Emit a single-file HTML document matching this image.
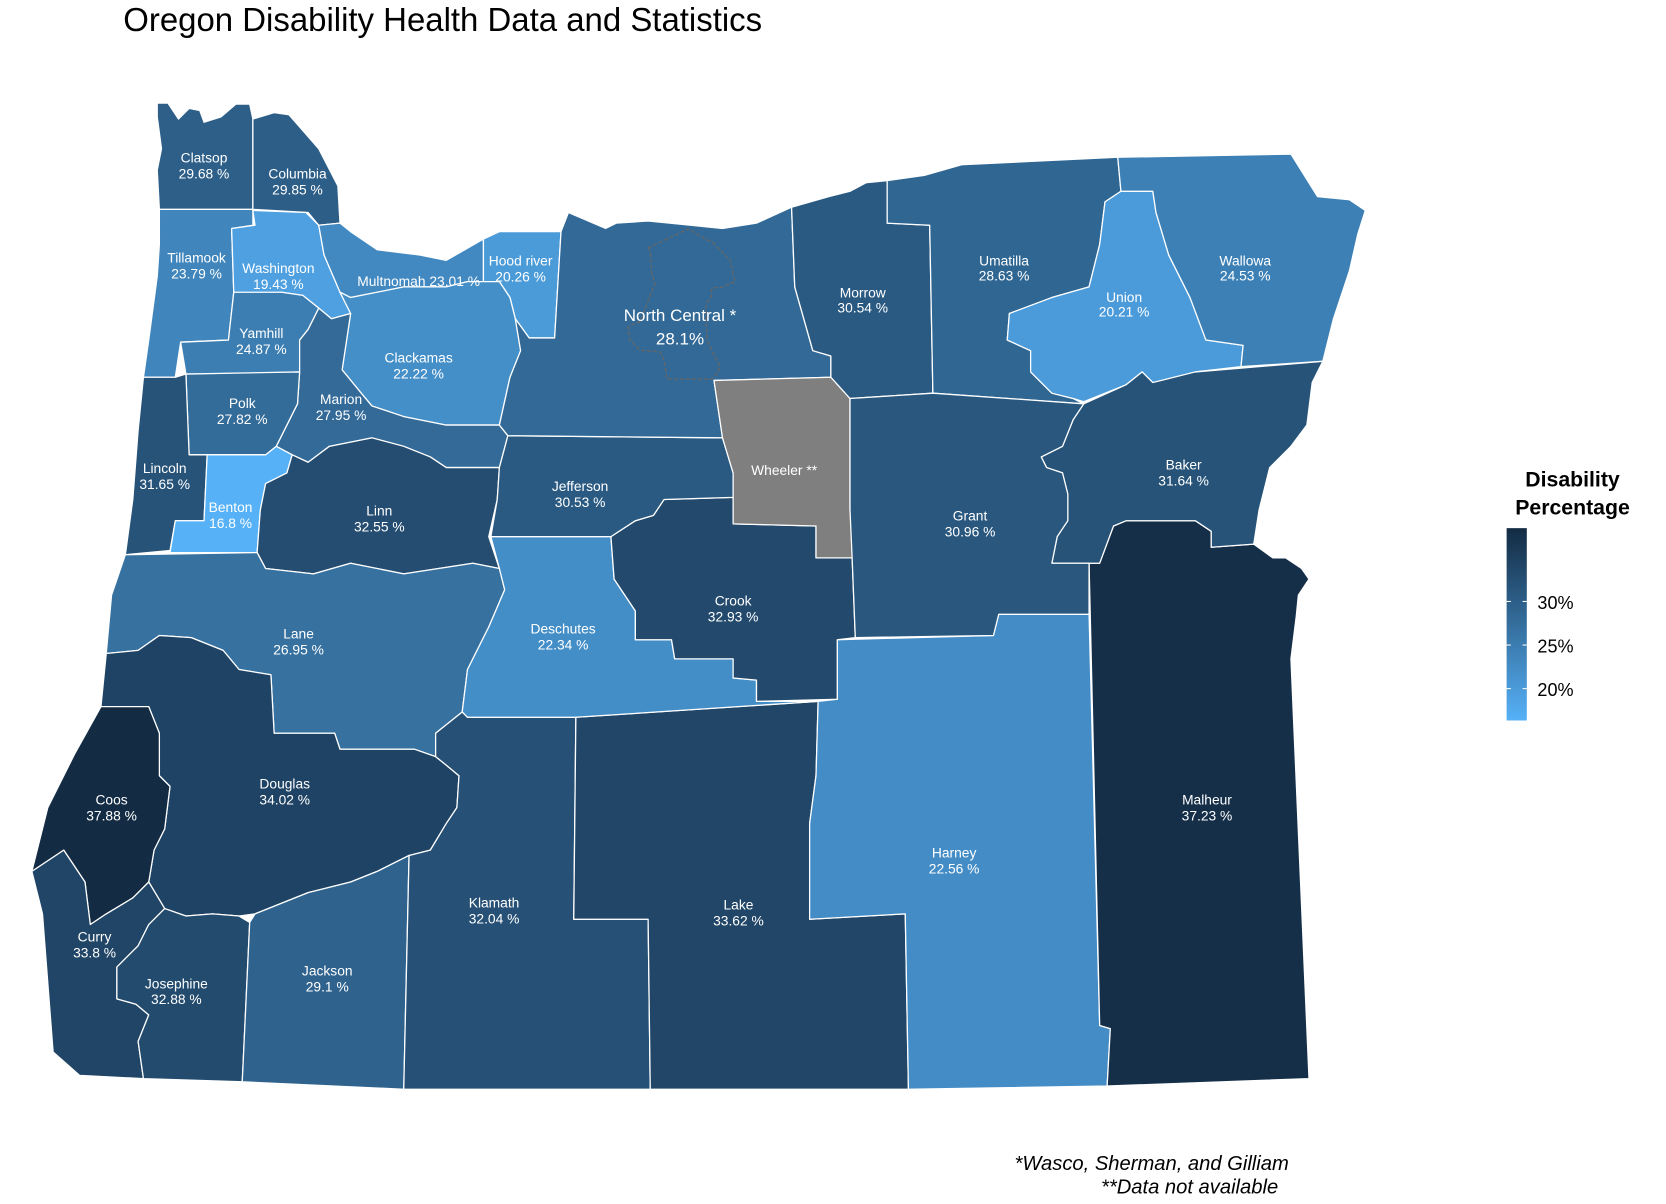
<!DOCTYPE html>
<html><head><meta charset="utf-8"><style>
html,body{margin:0;padding:0;background:#fff;}
svg{display:block;}
text{font-family:"Liberation Sans",Arial,sans-serif;}
.l{fill:#fff;font-size:13px;text-anchor:middle;}
</style></head><body>
<svg width="1666" height="1204" viewBox="0 0 1568 1133" preserveAspectRatio="none" xmlns="http://www.w3.org/2000/svg">
<defs><linearGradient id="g" x1="0" y1="1" x2="0" y2="0">
<stop offset="0" stop-color="#56b1f7"/><stop offset="1" stop-color="#132b43"/></linearGradient></defs>
<text x="116" y="29" font-size="31" fill="#000">Oregon Disability Health Data and Statistics</text>
<g stroke="#fff" stroke-width="1.2" stroke-linejoin="round">
<polygon fill="#2d5f89" points="148,97 158,97 168,112 178,102 188,104 192,115 208,110 222,98 235,98 238,112 238,197 150,197 148,160 152,140 148,110"/>
<polygon fill="#2d5e88" points="238,112 258,106 272,108 300,140 318,175 320,210 300,212 290,200 238,197"/>
<polygon fill="#4085bb" points="150,197 238,197 238,212 218,215 220,275 215,320 170,322 165,355 135,355 140,320 148,260 150,230"/>
<polygon fill="#4ea0e1" points="218,215 240,212 238,198 288,200 300,212 305,240 320,275 330,295 312,300 300,290 285,278 265,275 240,278 220,275"/>
<polygon fill="#3c7eb2" points="220,275 265,275 285,278 300,290 290,310 282,320 282,350 230,352 175,352 170,322 215,320"/>
<polygon fill="#4289c2" points="300,212 320,210 330,218 355,235 395,240 420,245 455,225 455,265 440,265 420,270 380,270 330,280 320,275 305,240"/>
<polygon fill="#4b9bd9" points="455,225 470,218 490,218 528,218 522,318 498,318 485,300 480,280 470,265 455,265"/>
<polygon fill="#458fc9" points="320,275 330,280 380,270 420,270 440,265 470,265 480,280 485,300 490,330 480,355 470,400 420,400 380,392 350,382 340,370 322,348 330,295"/>
<polygon fill="#336a98" points="290,310 300,290 312,300 330,295 322,348 340,370 350,382 380,392 420,400 470,400 478,410 470,440 420,440 405,430 380,420 350,412 310,420 290,435 275,428 260,420 270,400 280,380 282,350 282,320"/>
<polygon fill="#336b99" points="175,352 282,350 280,380 270,400 260,420 250,428 178,428"/>
<polygon fill="#275378" points="135,355 165,355 175,352 178,428 195,428 192,490 165,490 160,518 118,522 125,470 130,405"/>
<polygon fill="#56b1f7" points="195,428 250,428 260,420 275,428 270,445 250,455 245,480 242,520 160,520 165,490 192,490"/>
<polygon fill="#244d71" points="250,455 270,445 275,428 290,435 310,420 350,412 380,420 405,430 420,440 470,440 468,470 460,505 470,535 445,530 380,540 330,530 295,540 250,535 242,520 245,480"/>
<polygon fill="#3671a0" points="118,522 242,520 250,535 295,540 330,530 380,540 445,530 470,535 475,555 460,590 440,630 435,670 410,690 410,712 390,705 320,705 315,690 258,690 255,635 225,630 210,612 180,600 150,598 130,612 100,615 105,560"/>
<polygon fill="#1f4364" points="100,615 130,612 150,598 180,600 210,612 225,630 255,635 258,690 315,690 320,705 390,705 410,712 420,720 432,730 430,760 420,775 405,800 385,805 355,820 330,830 290,840 240,860 225,862 200,860 175,862 155,855 140,830 145,800 155,780 160,740 150,730 150,690 140,665 95,665"/>
<polygon fill="#132b43" points="95,665 140,665 150,690 150,730 160,740 155,780 145,800 140,830 125,845 100,860 85,870 80,830 60,800 30,820 45,760 70,710"/>
<polygon fill="#204566" points="30,820 60,800 80,830 85,870 100,860 125,845 140,830 155,855 140,870 130,890 110,910 110,940 128,945 140,955 130,980 135,1015 75,1012 50,990 40,860"/>
<polygon fill="#234b6e" points="155,855 175,862 200,860 225,862 235,868 228,1018 135,1015 130,980 140,955 128,945 110,940 110,910 130,890 140,870"/>
<polygon fill="#2f638e" points="235,868 240,860 290,840 330,830 355,820 385,805 380,1025 228,1018"/>
<polygon fill="#265075" points="385,805 405,800 420,775 430,760 432,730 420,720 410,712 410,690 435,670 440,675 542,675 540,865 610,865 612,1025 380,1025"/>
<polygon fill="#214667" points="542,675 770,660 768,730 762,775 762,865 852,860 855,1025 612,1025 610,865 540,865"/>
<polygon fill="#448cc6" points="770,660 788,658 788,602 935,598 940,578 1025,578 1035,965 1045,968 1042,1022 855,1025 852,860 762,865 762,775 768,730"/>
<polygon fill="#152f49" points="1025,530 1035,530 1048,495 1060,490 1125,490 1140,500 1140,515 1180,512 1198,525 1210,525 1225,535 1232,545 1222,560 1220,580 1215,620 1232,1015 1042,1022 1045,968 1035,965"/>
<polygon fill="#448ec8" points="462,505 575,505 578,545 598,575 598,602 632,602 635,620 690,620 690,638 712,640 712,660 770,660 542,675 440,675 435,670 440,630 460,590 475,555 470,535"/>
<polygon fill="#234a6d" points="575,505 598,490 615,485 625,470 690,468 690,493 768,495 768,525 802,525 805,600 788,602 788,658 712,660 712,640 690,638 690,620 635,620 632,602 598,602 598,575 578,545"/>
<polygon fill="#2a5a82" points="478,410 680,412 690,445 690,468 625,470 615,485 598,490 575,505 462,505 468,470 470,440"/>
<polygon fill="#326996" points="528,218 535,200 570,215 580,210 610,208 650,212 680,215 712,210 745,195 748,270 765,330 782,335 782,355 672,358 680,412 478,410 470,400 480,355 490,330 485,300 498,318 522,318"/>
<polygon fill="#7f7f7f" points="672,358 782,355 800,375 800,480 805,525 768,525 768,495 690,493 690,445 680,412"/>
<polygon fill="#2a5a82" points="745,195 780,185 800,180 815,172 835,170 835,210 875,212 878,370 800,375 782,355 782,335 765,330 748,270"/>
<polygon fill="#306692" points="835,170 870,165 905,155 1052,148 1055,180 1040,190 1035,230 1025,270 990,280 950,295 948,320 970,330 970,350 990,370 1010,375 1020,380 878,370 875,212 835,210"/>
<polygon fill="#4b9bda" points="1040,190 1055,180 1085,180 1088,200 1100,240 1120,280 1135,320 1170,325 1168,345 1125,350 1085,360 1075,350 1060,362 1020,378 1010,375 990,370 970,350 970,330 948,320 950,295 990,280 1025,270 1035,230"/>
<polygon fill="#3d80b5" points="1052,148 1215,145 1240,185 1270,188 1285,198 1278,220 1270,255 1255,300 1245,340 1168,345 1170,325 1135,320 1120,280 1100,240 1088,200 1085,180 1055,180"/>
<polygon fill="#275378" points="1020,380 1060,362 1075,350 1085,360 1125,350 1245,340 1235,360 1230,400 1215,420 1195,440 1185,480 1180,512 1140,515 1140,500 1125,490 1060,490 1048,495 1035,530 1025,530 990,530 995,505 1005,490 1005,465 1000,445 985,440 980,430 1000,420 1010,395"/>
<polygon fill="#29577e" points="800,375 878,370 1020,380 1010,395 1000,420 980,430 985,440 1000,445 1005,465 1005,490 995,505 990,530 1025,530 1025,578 940,578 935,598 805,600 802,525 800,480"/>
</g>
<g transform="scale(0.9412)"><polyline fill="none" stroke="#666" stroke-width="1.3" stroke-dasharray="4,2" points="648,248 688,229 713,243 730,260 735,282 722,287 712,288 711,297 706,304 706,315 707,340 713,353 720,366 718,372 712,379 667,379 664,360 660,352 640,350 630,340 628,327 634,324 640,322 655,283 652,275 650,250 648,248"/></g>
<g class="l">
<text class="l" x="192" y="153">Clatsop</text><text class="l" x="192" y="168">29.68 %</text>
<text class="l" x="280" y="168">Columbia</text><text class="l" x="280" y="183">29.85 %</text>
<text class="l" x="185" y="247">Tillamook</text><text class="l" x="185" y="262">23.79 %</text>
<text class="l" x="262" y="257">Washington</text><text class="l" x="262" y="272">19.43 %</text>
<text class="l" x="394" y="269">Multnomah 23.01 %</text>
<text class="l" x="490" y="250">Hood river</text><text class="l" x="490" y="265">20.26 %</text>
<text class="l" x="640" y="302" style="font-size:16px">North Central *</text><text class="l" x="640" y="324" style="font-size:16px">28.1%</text>
<text class="l" x="812" y="280">Morrow</text><text class="l" x="812" y="294">30.54 %</text>
<text class="l" x="945" y="250">Umatilla</text><text class="l" x="945" y="264">28.63 %</text>
<text class="l" x="1058" y="284">Union</text><text class="l" x="1058" y="298">20.21 %</text>
<text class="l" x="1172" y="250">Wallowa</text><text class="l" x="1172" y="264">24.53 %</text>
<text class="l" x="246" y="318">Yamhill</text><text class="l" x="246" y="333">24.87 %</text>
<text class="l" x="394" y="341">Clackamas</text><text class="l" x="394" y="356">22.22 %</text>
<text class="l" x="228" y="384">Polk</text><text class="l" x="228" y="399">27.82 %</text>
<text class="l" x="321" y="380">Marion</text><text class="l" x="321" y="395">27.95 %</text>
<text class="l" x="155" y="445">Lincoln</text><text class="l" x="155" y="460">31.65 %</text>
<text class="l" x="217" y="482">Benton</text><text class="l" x="217" y="497">16.8 %</text>
<text class="l" x="357" y="485">Linn</text><text class="l" x="357" y="500">32.55 %</text>
<text class="l" x="546" y="462">Jefferson</text><text class="l" x="546" y="477">30.53 %</text>
<text class="l" x="738" y="447">Wheeler **</text>
<text class="l" x="913" y="490">Grant</text><text class="l" x="913" y="505">30.96 %</text>
<text class="l" x="1114" y="442">Baker</text><text class="l" x="1114" y="457">31.64 %</text>
<text class="l" x="281" y="601">Lane</text><text class="l" x="281" y="616">26.95 %</text>
<text class="l" x="530" y="596">Deschutes</text><text class="l" x="530" y="611">22.34 %</text>
<text class="l" x="690" y="570">Crook</text><text class="l" x="690" y="585">32.93 %</text>
<text class="l" x="1136" y="757">Malheur</text><text class="l" x="1136" y="772">37.23 %</text>
<text class="l" x="105" y="757">Coos</text><text class="l" x="105" y="772">37.88 %</text>
<text class="l" x="268" y="742">Douglas</text><text class="l" x="268" y="757">34.02 %</text>
<text class="l" x="89" y="886">Curry</text><text class="l" x="89" y="901">33.8 %</text>
<text class="l" x="166" y="930">Josephine</text><text class="l" x="166" y="945">32.88 %</text>
<text class="l" x="308" y="918">Jackson</text><text class="l" x="308" y="933">29.1 %</text>
<text class="l" x="465" y="854">Klamath</text><text class="l" x="465" y="869">32.04 %</text>
<text class="l" x="695" y="856">Lake</text><text class="l" x="695" y="871">33.62 %</text>
<text class="l" x="898" y="807">Harney</text><text class="l" x="898" y="822">22.56 %</text>
</g>
<text x="1480" y="458" font-size="20" font-weight="bold" text-anchor="middle">Disability</text>
<text x="1480" y="484" font-size="20" font-weight="bold" text-anchor="middle">Percentage</text>
<rect x="1418" y="497" width="19" height="181" fill="url(#g)"/>
<g stroke="#fff" stroke-width="1"><line x1="1418" y1="566" x2="1422" y2="566"/><line x1="1433" y1="566" x2="1437" y2="566"/><line x1="1418" y1="607" x2="1422" y2="607"/><line x1="1433" y1="607" x2="1437" y2="607"/><line x1="1418" y1="648" x2="1422" y2="648"/><line x1="1433" y1="648" x2="1437" y2="648"/></g>
<g font-size="17" fill="#000"><text x="1447" y="573">30%</text><text x="1447" y="614">25%</text><text x="1447" y="655">20%</text></g>
<g font-size="19" font-style="italic" text-anchor="end" fill="#000"><text x="1213" y="1101">*Wasco, Sherman, and Gilliam</text><text x="1203" y="1123">**Data not available</text></g>
</svg>
</body></html>
